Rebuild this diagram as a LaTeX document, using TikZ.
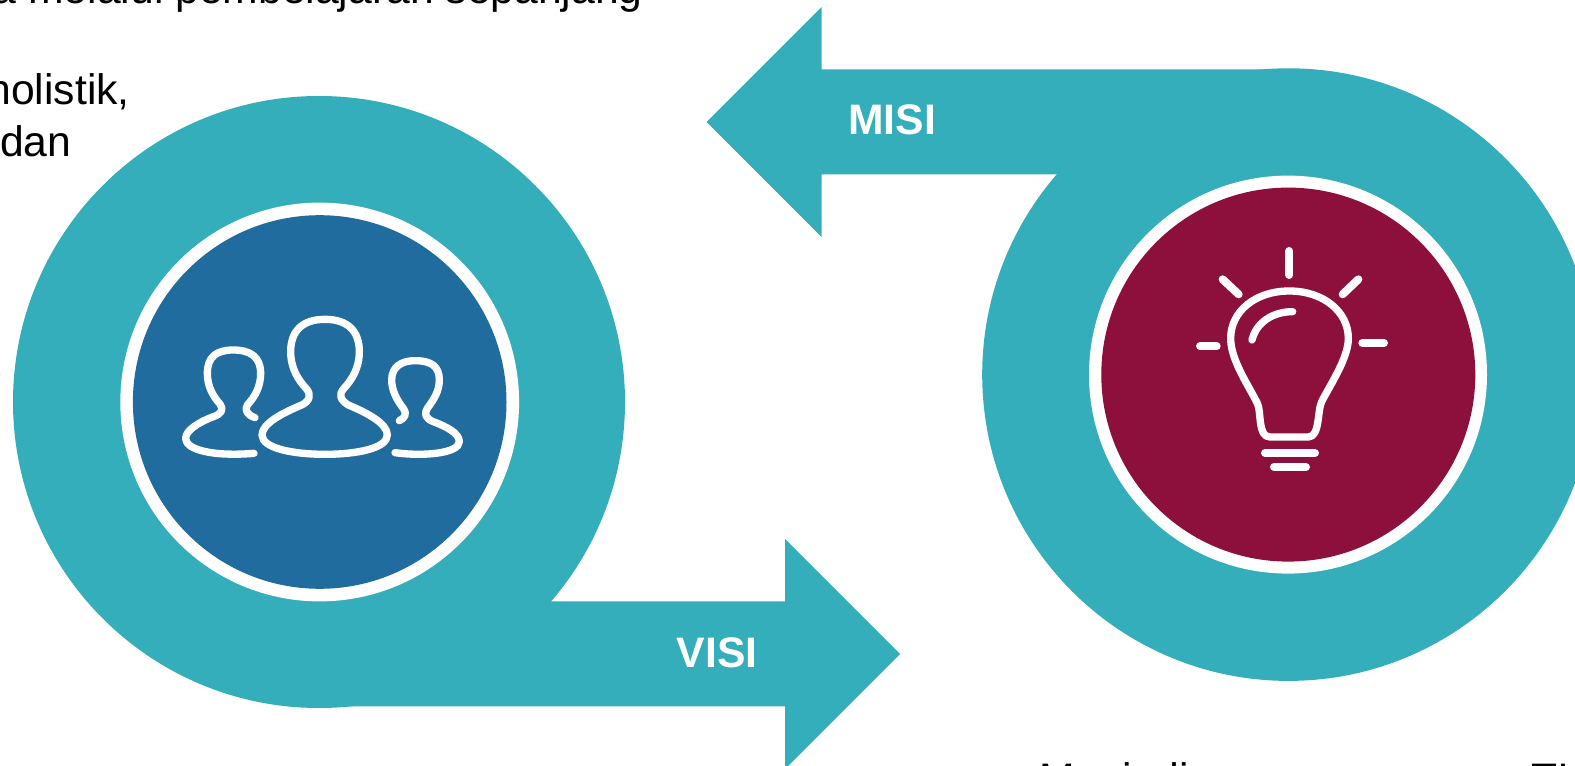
\documentclass[tikz,border=0pt]{standalone}
\usepackage{fontspec}
\setmainfont{Liberation Sans}
\definecolor{tealband}{RGB}{51,174,186}
\definecolor{bluedisc}{RGB}{32,108,158}
\definecolor{crimsondisc}{RGB}{140,15,60}
\tikzset{
  band/.style={fill=tealband},
  bodytext/.style={inner sep=0pt,font=\fontsize{32pt}{36pt}\selectfont,text=black},
  tag/.style={inner sep=0pt,anchor=base,font=\fontsize{32pt}{36pt}\selectfont\bfseries,text=white},
  iconline/.style={draw=white,line width=5.5pt,line cap=round,line join=round},
  rayline/.style={draw=white,line width=6pt,line cap=round},
}
\begin{document}
\begin{tikzpicture}[x=0.75pt,y=-0.75pt]
\useasboundingbox (0,0) rectangle (1575,766);
\clip (0,0) rectangle (1575,766);
\fill[white] (0,0) rectangle (1575,766);
% background text
\node[bodytext,anchor=base east] (t1) at (643,4) {a melalui pembelajaran sepanjang};
\node[bodytext,anchor=base east] (t2) at (130,105) {holistik,};
\node[bodytext,anchor=base east] (t3) at (71.5,157) {dan};
\node[bodytext,anchor=base west] (t4) at (1039,793) {Menjadi};
\node[bodytext,anchor=base west] (t5) at (1531,793) {TI};
% arrows and rings
\fill[band] (319,601.3) -- (785,601.3) -- (785,539) -- (900,654) -- (785,769) -- (785,706.3) -- (319,706.3) -- cycle;
\fill[band] (319,402) circle[radius=306];
\fill[band] (1288,69.5) -- (821.7,69.5) -- (821.7,7) -- (706.7,122) -- (821.7,237) -- (821.7,174.3) -- (1288,174.3) -- cycle;
\fill[band] (1288.5,374.6) circle[radius=306.3];
% discs
\fill[white] (319.7,402) circle[radius=199.4];
\fill[bluedisc] (319.7,402) circle[radius=186.8];
\fill[white] (1288,374.6) circle[radius=199];
\fill[crimsondisc] (1288.3,374.6) circle[radius=187];
% labels
\node[tag] (misi) at (892,135) {MISI};
\node[tag] (visi) at (717,667) {VISI};
% people icon
\begin{scope}[shift={(170,300)},x=0.25pt,y=-0.25pt]
\draw[iconline] (465,58) .. controls (535,58) and (568,95) .. (568,155)
  .. controls (568,205) and (545,240) .. (522,265)
  .. controls (505,283) and (510,300) .. (535,315)
  .. controls (590,338) and (652,370) .. (652,405)
  .. controls (652,445) and (560,463) .. (465,463)
  .. controls (370,463) and (276,445) .. (276,405)
  .. controls (276,370) and (340,338) .. (395,315)
  .. controls (420,303) and (425,283) .. (408,265)
  .. controls (385,240) and (362,205) .. (362,155)
  .. controls (362,95) and (395,58) .. (465,58) -- cycle;
\draw[iconline] (255,353) .. controls (232,345) and (222,330) .. (232,315)
  .. controls (255,290) and (272,260) .. (272,220)
  .. controls (272,170) and (240,150) .. (190,150)
  .. controls (140,150) and (112,170) .. (112,220)
  .. controls (112,260) and (130,290) .. (150,312)
  .. controls (162,328) and (155,342) .. (130,350)
  .. controls (90,365) and (47,390) .. (47,415)
  .. controls (47,450) and (130,470) .. (252,460);
\draw[iconline] (688,362) .. controls (705,355) and (712,340) .. (700,325)
  .. controls (680,300) and (665,270) .. (665,240)
  .. controls (665,200) and (695,182) .. (735,182)
  .. controls (785,182) and (808,200) .. (808,240)
  .. controls (808,275) and (790,300) .. (772,325)
  .. controls (762,340) and (765,355) .. (790,365)
  .. controls (830,380) and (868,400) .. (868,425)
  .. controls (868,460) and (760,470) .. (675,458);
\end{scope}
% bulb icon
\begin{scope}[shift={(1180,235)},x=0.25pt,y=-0.25pt]
\draw[iconline] (328,168) .. controls (430,168) and (505,230) .. (505,310)
  .. controls (505,370) and (450,450) .. (425,500)
  .. controls (412,525) and (420,606) .. (385,606)
  -- (270,606)
  .. controls (232,606) and (245,530) .. (232,505)
  .. controls (205,450) and (152,375) .. (152,310)
  .. controls (152,230) and (225,168) .. (328,168) -- cycle;
\draw[iconline] (216,315) .. controls (228,265) and (275,230) .. (338,230);
\draw[rayline] (328,48) -- (328,120);
\draw[rayline] (128,133) -- (176,178);
\draw[rayline] (535,133) -- (488,178);
\draw[rayline] (60,334) -- (110,334);
\draw[rayline] (547,324) -- (612,324);
\draw[rayline] (255,654) -- (405,654);
\draw[rayline] (282,696) -- (378,696);
\end{scope}
\end{tikzpicture}
\end{document}
